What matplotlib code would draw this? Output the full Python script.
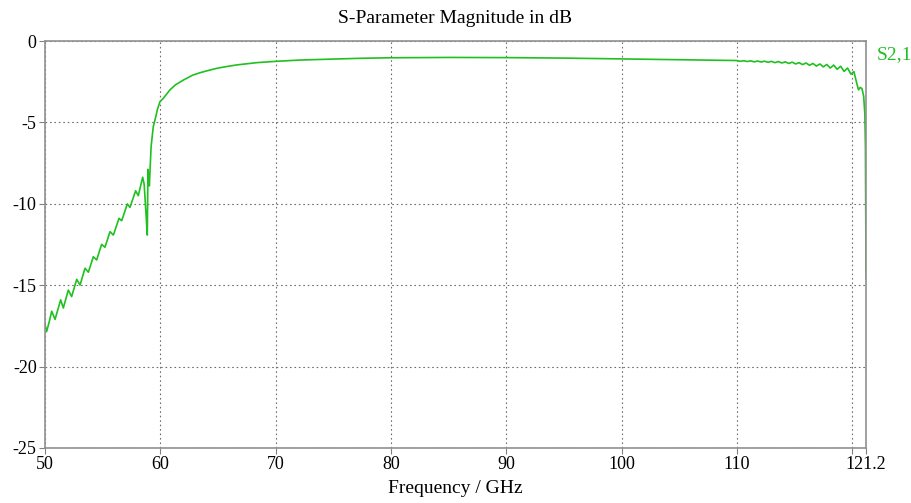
import matplotlib
matplotlib.use("Agg")
import matplotlib.pyplot as plt

plt.rcParams['font.family'] = ['Liberation Serif', 'DejaVu Serif']
plt.rcParams['axes.unicode_minus'] = False

# Frequency (GHz) and S2,1 magnitude (dB)
freq = [50.0, 50.14, 50.35, 50.58, 50.87, 51.36, 51.59, 52.02, 52.31, 52.75,
        53.04, 53.47, 53.76, 54.19, 54.48, 54.91, 55.2, 55.64, 55.93, 56.42,
        56.65, 57.14, 57.37, 57.86, 58.09, 58.47, 58.6, 58.75, 58.87, 58.93,
        59.0, 59.05, 59.2, 59.39, 59.54, 59.75, 59.97, 60.26, 60.84, 61.3,
        62.0, 62.8, 63.44, 64.0, 64.89, 65.5, 66.62, 68.36, 70.0, 72.12,
        75.0, 77.5, 80.0, 85.0, 90.0, 95.0, 100.0, 105.0,
        110.0, 110.3, 110.6, 110.9, 111.2, 111.5, 111.8, 112.1, 112.4, 112.7,
        113.0, 113.3, 113.6, 113.9, 114.2, 114.5, 114.8, 115.1, 115.4, 115.7,
        116.0, 116.3, 116.6, 116.9, 117.2, 117.5, 117.8, 118.1, 118.4, 118.7,
        119.0, 119.3, 119.6, 119.9, 120.15, 120.4, 120.55, 120.7, 120.85,
        121.0, 121.1, 121.15, 121.18, 121.2]
s21_db = [-17.4, -17.85, -17.3, -16.6, -17.1, -15.9, -16.4, -15.3, -15.7, -14.64,
          -14.99, -13.96, -14.2, -13.25, -13.45, -12.49, -12.67, -11.71, -11.92, -10.89,
          -11.04, -10.01, -10.22, -9.2, -9.5, -8.37, -8.8, -10.5, -11.92, -7.88,
          -8.5, -8.9, -6.5, -5.26, -4.85, -4.2, -3.73, -3.52, -3.0, -2.7,
          -2.4, -2.1, -1.95, -1.84, -1.68, -1.6, -1.47, -1.33, -1.25, -1.17,
          -1.11, -1.06, -1.03, -1.01, -1.02, -1.05, -1.10, -1.15,
          -1.20, -1.25, -1.21, -1.26, -1.22, -1.28, -1.23, -1.29, -1.24, -1.31,
          -1.25, -1.33, -1.26, -1.35, -1.28, -1.38, -1.30, -1.41, -1.33, -1.45,
          -1.35, -1.49, -1.38, -1.54, -1.41, -1.59, -1.44, -1.66, -1.48, -1.74,
          -1.55, -1.87, -1.66, -2.04, -1.88, -2.6, -3.0, -2.85, -2.92,
          -3.4, -4.5, -6.5, -11.0, -14.6]

x_ticks = [50, 60, 70, 80, 90, 100, 110, 120, 121.2]
x_labels = ['50', '60', '70', '80', '90', '100', '110', '', '121.2']
y_ticks = [0, -5, -10, -15, -20, -25]
y_labels = ['0', '-5', '-10', '-15', '-20', '-25']

green = '#20c020'

fig = plt.figure(figsize=(9.12, 5.03), dpi=100)
ax = fig.add_axes([45/912, 1-448/503, (866-45)/912, (448-41)/503])

ax.plot(freq, s21_db, color=green, lw=1.2)

ax.set_xlim(50, 121.2)
ax.set_ylim(-25, 0)
ax.set_xticks(x_ticks)
ax.set_xticklabels(x_labels)
ax.set_yticks(y_ticks)
ax.set_yticklabels(y_labels)
ax.tick_params(axis='both', labelsize=13, direction='out', length=4,
               color='#808080', pad=2)

ax.grid(True, color='#707070', linestyle=(0, (1.5, 2.5)), linewidth=0.8)

for sp in ax.spines.values():
    sp.set_color('#909090')
    sp.set_linewidth(1.2)

ax.set_title('S-Parameter Magnitude in dB', fontsize=14, pad=13)
ax.set_xlabel('Frequency / GHz', fontsize=14, labelpad=5)

fig.text(877/912, 1-55/503, 'S2,1', color=green, fontsize=14,
         ha='left', va='center')

fig.savefig('out.png', dpi=100)
